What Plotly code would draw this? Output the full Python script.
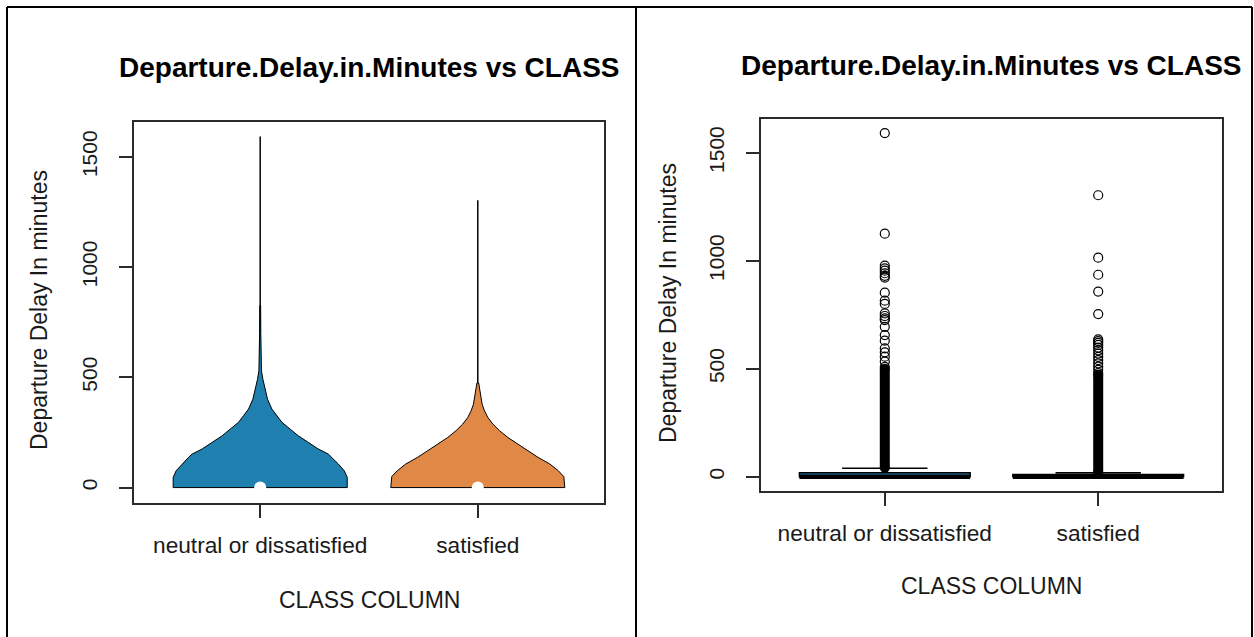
import plotly.graph_objects as go

# ---- categories ----
classes = ["neutral or dissatisfied", "satisfied"]
class_pos = [1, 2]
colors = ["#1f80b0", "#e08846"]

# ---- violin outlines: delay value (min) and relative density (0..1) ----
nd_vals = [0, 46, 76, 107, 137, 152, 175, 205, 235, 265, 296, 326, 356, 401,
           446, 491, 529, 600, 700, 825]
nd_dens = [1.0, 1.0, 0.966, 0.897, 0.824, 0.782, 0.667, 0.552, 0.437, 0.345,
           0.249, 0.192, 0.134, 0.084, 0.054, 0.031, 0.015, 0.009, 0.007, 0.005]
sat_vals = [0, 50, 77, 107, 137, 167, 197, 227, 258, 288, 318, 348, 378, 423,
            453, 475]
sat_dens = [1.0, 0.988, 0.923, 0.827, 0.692, 0.577, 0.461, 0.346, 0.25, 0.173,
            0.115, 0.077, 0.05, 0.031, 0.02, 0.01]
delay_min = [0, 0]
delay_max = [1592, 1303]
delay_median = [0, 0]

# ---- boxplot statistics ----
box_q1 = [0, 0]
box_median = [0, 0]
box_q3 = [18, 10]
box_lower = [0, 0]
box_upper = [39, 19]

# ---- outliers: continuous runs (every minute) and isolated points ----
nd_run = [42, 500]
sat_run = [22, 472]
nd_outliers = [509, 533, 556, 576, 594, 630, 656, 694, 725, 733, 744, 756,
               800, 815, 852, 922, 930, 942, 954, 965, 977, 1125, 1591]
sat_outliers = [480, 495, 510, 525, 540, 555, 570, 585, 598, 610, 620, 628,
                636, 753, 857, 935, 1014, 1303]

W, H = 1254, 637
FONT = "Liberation Sans, Arial, sans-serif"
INK = "#1a1a1a"
AXIS = "#2b2b2b"
HALF_WIDTH = 0.4


def px_x(p):
    return p / W


def px_y(p):
    return 1 - p / H


fig = go.Figure()

# ---- left panel: violins (range line underneath, density shape on top) ----
for pos, vals, dens, col, vmin, vmax, med in zip(
        class_pos, [nd_vals, sat_vals], [nd_dens, sat_dens], colors,
        delay_min, delay_max, delay_median):
    fig.add_trace(go.Scatter(x=[pos, pos], y=[vmin, vmax], mode="lines",
                             line=dict(color="black", width=1.5),
                             xaxis="x", yaxis="y", hoverinfo="skip",
                             showlegend=False))
    xs = [pos - HALF_WIDTH * d for d in dens] + \
         [pos + HALF_WIDTH * d for d in reversed(dens)]
    ys = list(vals) + list(reversed(vals))
    # close the outline along the base
    xs.append(xs[0])
    ys.append(ys[0])
    fig.add_trace(go.Scatter(x=xs, y=ys, mode="lines", fill="toself",
                             fillcolor=col, line=dict(color="black", width=1),
                             xaxis="x", yaxis="y", hoverinfo="skip",
                             showlegend=False))
    fig.add_trace(go.Scatter(x=[pos], y=[med], mode="markers",
                             marker=dict(color="white", size=12),
                             xaxis="x", yaxis="y", hoverinfo="skip",
                             showlegend=False))

# ---- right panel: boxplots with outliers ----
for i, pos in enumerate(class_pos):
    fig.add_trace(go.Box(x=[pos], q1=[box_q1[i]], median=[box_median[i]],
                         q3=[box_q3[i]], lowerfence=[box_lower[i]],
                         upperfence=[box_upper[i]], width=0.8,
                         whiskerwidth=0.5, fillcolor=colors[i],
                         line=dict(color="black", width=1.5),
                         boxpoints=False, xaxis="x2", yaxis="y2",
                         hoverinfo="skip", showlegend=False))
    fig.add_trace(go.Scatter(x=[pos - 0.4, pos + 0.4],
                             y=[box_median[i], box_median[i]], mode="lines",
                             line=dict(color="black", width=4.5),
                             xaxis="x2", yaxis="y2", hoverinfo="skip",
                             showlegend=False))

for pos, run, pts in zip(class_pos, [nd_run, sat_run],
                         [nd_outliers, sat_outliers]):
    fig.add_trace(go.Scatter(x=[pos, pos], y=run, mode="lines+markers",
                             line=dict(color="black", width=10),
                             marker=dict(symbol="circle", size=10,
                                         color="black"),
                             xaxis="x2", yaxis="y2", hoverinfo="skip",
                             showlegend=False))
    fig.add_trace(go.Scatter(x=[pos] * len(pts), y=pts, mode="markers",
                             marker=dict(symbol="circle-open", size=9,
                                         color="black",
                                         line=dict(width=1.2, color="black")),
                             xaxis="x2", yaxis="y2", hoverinfo="skip",
                             showlegend=False))

tick_font = dict(family=FONT, size=21, color=INK)
xaxis_common = dict(range=[0.42, 2.58], tickvals=class_pos, ticktext=classes,
                    ticks="outside", ticklen=13, tickcolor=AXIS, tickwidth=1.5,
                    showline=True, mirror=True, linecolor=AXIS, linewidth=1.5,
                    showgrid=False, zeroline=False, tickfont=dict(
                        family=FONT, size=22.7, color=INK),
                    ticklabelstandoff=8)
yaxis_common = dict(tickvals=[0, 500, 1000, 1500], tickangle=-90,
                    ticks="outside", ticklen=13, tickcolor=AXIS, tickwidth=1.5,
                    showline=True, mirror=True, linecolor=AXIS, linewidth=1.5,
                    showgrid=False, zeroline=False, tickfont=tick_font,
                    ticklabelstandoff=14)

fig.update_layout(
    width=W, height=H, margin=dict(l=0, r=0, t=0, b=0),
    paper_bgcolor="white", plot_bgcolor="white",
    font=dict(family=FONT, color=INK),
    xaxis=dict(domain=[px_x(134), px_x(604)], anchor="y", **xaxis_common),
    yaxis=dict(domain=[px_y(503), px_y(122)], anchor="x",
               range=[-70, 1658], **yaxis_common),
    xaxis2=dict(domain=[px_x(761), px_x(1222)], anchor="y2", **xaxis_common),
    yaxis2=dict(domain=[px_y(491), px_y(119)], anchor="x2",
                range=[-66, 1656], **yaxis_common),
)

title = "Departure.Delay.in.Minutes vs CLASS"
ann = []
for cx, ty, ylab_x, ylab_y, xlab_y in [(369, 67, 39, 310, 600),
                                        (992, 65, 668, 303, 586)]:
    ann.append(dict(text="<b>%s</b>" % title, x=px_x(cx), y=px_y(ty),
                    xref="paper", yref="paper", showarrow=False,
                    xanchor="center", yanchor="middle",
                    font=dict(family=FONT, size=28, color="black")))
    ann.append(dict(text="Departure Delay In minutes", x=px_x(ylab_x),
                    y=px_y(ylab_y), xref="paper", yref="paper",
                    showarrow=False, textangle=-90, xanchor="center",
                    yanchor="middle", font=dict(family=FONT, size=23,
                                                color=INK)))
    ann.append(dict(text="CLASS COLUMN", x=px_x(cx), y=px_y(xlab_y),
                    xref="paper", yref="paper", showarrow=False,
                    xanchor="center", yanchor="middle",
                    font=dict(family=FONT, size=23, color=INK)))
fig.update_layout(annotations=ann)

# page frame: top edge, outer sides and the divider between the panels
frame = dict(type="line", xref="paper", yref="paper",
             line=dict(color="black", width=2))
fig.update_layout(shapes=[
    dict(frame, x0=px_x(7), x1=px_x(1252), y0=px_y(7), y1=px_y(7)),
    dict(frame, x0=px_x(7), x1=px_x(7), y0=0, y1=px_y(7)),
    dict(frame, x0=px_x(636), x1=px_x(636), y0=0, y1=px_y(7)),
    dict(frame, x0=px_x(1252), x1=px_x(1252), y0=0, y1=px_y(7)),
])

fig.write_html("out.html")
